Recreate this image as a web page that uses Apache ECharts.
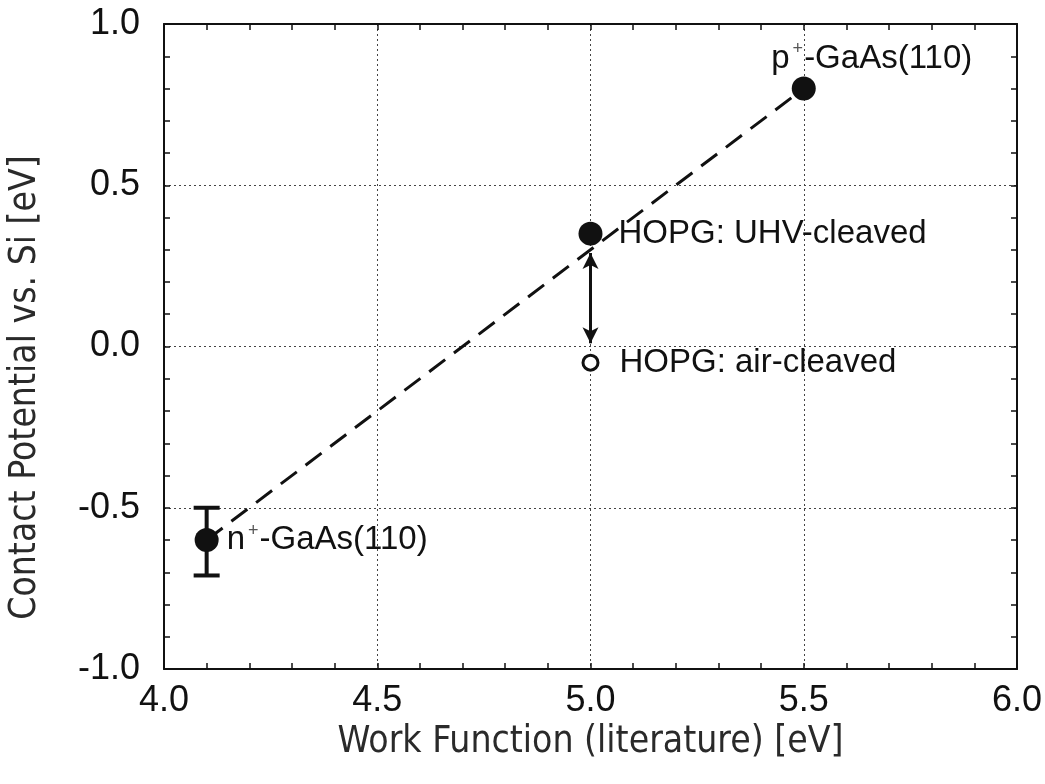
<!DOCTYPE html>
<html>
<head>
<meta charset="utf-8">
<title>Contact potential vs work function</title>
<script src="https://cdn.jsdelivr.net/npm/echarts@6/dist/echarts.min.js"></script>
<style>
  html, body { margin: 0; padding: 0; background: #fff; }
  #chart { width: 1045px; height: 784px; }
</style>
</head>
<body>
<div id="chart"></div>
<script>
// filled points (UHV / doped GaAs)
const filledNames = ['n+-GaAs(110)', 'HOPG: UHV-cleaved', 'p+-GaAs(110)'];
const filledX = [4.1, 5.0, 5.5];
const filledY = [-0.6, 0.35, 0.8];

// open point (air-cleaved HOPG)
const openNames = ['HOPG: air-cleaved'];
const openX = [5.0];
const openY = [-0.05];

// error bar on n+-GaAs
const errX = [4.1];
const errLow = [-0.71];
const errHigh = [-0.50];

// dashed trend line
const fitX = [4.1, 5.5];
const fitY = [-0.6, 0.8];

// arrow between UHV and air cleaved
const arrowX = [5.0, 5.0];
const arrowY = [0.29, 0.01];

const FONT = 'Liberation Sans';
const black = '#111';

function labelText(name) {
  // turn "n+-..." into rich text with a superscript +
  const m = name.match(/^([np])\+(.*)$/);
  if (m) return '{b|' + m[1] + '}{sup|+}{b|' + m[2] + '}';
  return '{b|' + name + '}';
}

const richStyle = {
  b: { fontFamily: FONT, fontSize: 33, lineHeight: 36, color: black },
  sup: { fontFamily: FONT, fontSize: 18, lineHeight: 12, color: '#555', verticalAlign: 'top', padding: [0, 1, 0, 3] }
};

// per point label placement
const filledLabel = [
  { position: 'right', distance: 8, offset: [0, 0] },
  { position: 'right', distance: 16, offset: [0, 0] },
  { position: 'top', distance: 0, offset: [68, 0] }
];

const filledData = filledX.map(function (x, i) {
  return {
    value: [x, filledY[i]],
    name: filledNames[i],
    label: filledLabel[i]
  };
});
const openData = openX.map(function (x, i) {
  return { value: [x, openY[i]], name: openNames[i] };
});

const axisCommonX = {
  type: 'value',
  min: 4.0,
  max: 6.0,
  interval: 0.5,
  axisLine: { show: true, onZero: false, lineStyle: { color: black, width: 2 } },
  axisTick: { show: true, inside: true, length: 6, lineStyle: { color: black, width: 1.5 } },
  minorTick: { show: true, splitNumber: 5, length: 6, lineStyle: { color: black, width: 1.5 } }
};
const axisCommonY = {
  type: 'value',
  min: -1.0,
  max: 1.0,
  interval: 0.5,
  axisLine: { show: true, onZero: false, lineStyle: { color: black, width: 2 } },
  axisTick: { show: true, inside: true, length: 6, lineStyle: { color: black, width: 1.5 } },
  minorTick: { show: true, splitNumber: 5, length: 6, lineStyle: { color: black, width: 1.5 } }
};

const option = {
  backgroundColor: '#fff',
  animation: false,
  grid: { left: 164, right: 28, top: 24, bottom: 115, outerBoundsMode: 'none' },
  xAxis: [
    Object.assign({}, axisCommonX, {
      position: 'bottom',
      name: 'Work Function (literature) [eV]',
      nameLocation: 'middle',
      nameGap: 52,
      nameTextStyle: { fontFamily: 'DejaVu Sans Condensed', fontSize: 37, color: '#2a2a2a' },
      axisLabel: {
        margin: 14, fontFamily: FONT, fontSize: 36, color: black,
        formatter: function (v) { return v.toFixed(1); }
      },
      splitLine: { show: true, lineStyle: { color: '#444', width: 1, type: [2, 3] } }
    }),
    Object.assign({}, axisCommonX, {
      position: 'top',
      axisLabel: { show: false },
      splitLine: { show: false }
    })
  ],
  yAxis: [
    Object.assign({}, axisCommonY, {
      position: 'left',
      name: 'Contact Potential vs. Si [eV]',
      nameLocation: 'middle',
      nameGap: 120,
      nameTextStyle: { fontFamily: 'DejaVu Sans Condensed', fontSize: 37, color: '#2a2a2a', padding: [0, 82, 0, 0] },
      axisLabel: {
        margin: 24, fontFamily: FONT, fontSize: 36, color: black,
        formatter: function (v) { return v.toFixed(1); }
      },
      splitLine: { show: true, lineStyle: { color: '#444', width: 1, type: [2, 3] } }
    }),
    Object.assign({}, axisCommonY, {
      position: 'right',
      axisLabel: { show: false },
      splitLine: { show: false }
    })
  ],
  series: [
    {
      name: 'fit',
      type: 'line',
      data: fitX.map(function (x, i) { return [x, fitY[i]]; }),
      showSymbol: false,
      symbol: 'none',
      lineStyle: { color: black, width: 3, type: [20, 11] },
      z: 2
    },
    {
      name: 'error',
      type: 'custom',
      data: errX.map(function (x, i) { return [x, errLow[i], errHigh[i]]; }),
      renderItem: function (params, api) {
        const lo = api.coord([api.value(0), api.value(1)]);
        const hi = api.coord([api.value(0), api.value(2)]);
        const w = 13;
        const style = { stroke: black, lineWidth: 4 };
        return {
          type: 'group',
          children: [
            { type: 'line', shape: { x1: lo[0], y1: lo[1], x2: hi[0], y2: hi[1] }, style: style },
            { type: 'line', shape: { x1: lo[0] - w, y1: lo[1], x2: lo[0] + w, y2: lo[1] }, style: style },
            { type: 'line', shape: { x1: hi[0] - w, y1: hi[1], x2: hi[0] + w, y2: hi[1] }, style: style }
          ]
        };
      },
      z: 3
    },
    {
      name: 'UHV',
      type: 'scatter',
      data: filledData,
      symbol: 'circle',
      symbolSize: 24,
      itemStyle: { color: black, opacity: 1 },
      label: {
        show: true,
        formatter: function (p) { return labelText(p.name); },
        rich: richStyle
      },
      z: 5
    },
    {
      name: 'air',
      type: 'scatter',
      data: openData,
      symbol: 'circle',
      symbolSize: 15,
      itemStyle: { color: '#fff', borderColor: black, borderWidth: 3, opacity: 1 },
      label: {
        show: true,
        position: 'right',
        distance: 20,
        formatter: function (p) { return labelText(p.name); },
        rich: richStyle
      },
      markLine: {
        silent: true,
        symbol: ['arrow', 'arrow'],
        symbolSize: [12, 16],
        label: { show: false },
        lineStyle: { color: black, width: 3, type: 'solid' },
        data: [[
          { coord: [arrowX[0], arrowY[0]] },
          { coord: [arrowX[1], arrowY[1]] }
        ]]
      },
      z: 5
    }
  ]
};

const chart = echarts.init(document.getElementById('chart'));
chart.setOption(option);
</script>
</body>
</html>
